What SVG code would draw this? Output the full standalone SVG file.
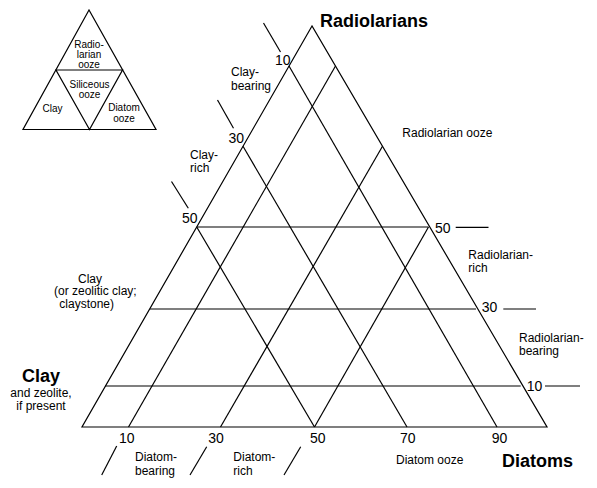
<svg xmlns="http://www.w3.org/2000/svg" width="597" height="488" viewBox="0 0 597 488">
<style>
.ln{stroke:#000;stroke-width:1.2;fill:none;stroke-linecap:butt}
.t{font-family:"Liberation Sans",Arial,sans-serif;font-size:12px;fill:#000}
.s{font-family:"Liberation Sans",Arial,sans-serif;font-size:10px;fill:#000}
.n{font-family:"Liberation Sans",Arial,sans-serif;font-size:14px;fill:#000}
.b{font-family:"Liberation Sans",Arial,sans-serif;font-size:18px;font-weight:bold;fill:#000}
</style>
<rect width="597" height="488" fill="#fff"/>
<g id="inset">
<polygon class="ln" points="89,10 23,129.5 156,129.5"/>
<polygon class="ln" points="56,70 122.5,70 89.5,129.5"/>
<text class="s" x="89" y="47.5" text-anchor="middle">Radio-</text>
<text class="s" x="89" y="57.5" text-anchor="middle">larian</text>
<text class="s" x="89" y="67.5" text-anchor="middle">ooze</text>
<text class="s" x="89.5" y="88" text-anchor="middle">Siliceous</text>
<text class="s" x="89.5" y="98" text-anchor="middle">ooze</text>
<text class="s" x="52.5" y="111.5" text-anchor="middle">Clay</text>
<text class="s" x="124" y="111" text-anchor="middle">Diatom</text>
<text class="s" x="124" y="121.5" text-anchor="middle">ooze</text>
</g>
<g id="triangle">
<polygon class="ln" points="312,26 82,427 547,427"/>
</g>
<g id="connectors">
<line class="ln" x1="196.7" y1="227" x2="428.5" y2="227"/>
<line class="ln" x1="150" y1="309" x2="476" y2="309"/>
<line class="ln" x1="105" y1="386" x2="520.7" y2="386"/>
<line class="ln" x1="289" y1="66" x2="497" y2="427"/>
<line class="ln" x1="243" y1="146.3" x2="407" y2="427"/>
<line class="ln" x1="196.7" y1="227" x2="314.5" y2="427"/>
<line class="ln" x1="335.5" y1="66" x2="128.5" y2="427"/>
<line class="ln" x1="382.5" y1="146.3" x2="220.5" y2="427"/>
<line class="ln" x1="428.5" y1="227" x2="314.5" y2="427"/>
<line class="ln" x1="263.5" y1="23" x2="280.5" y2="52"/>
<line class="ln" x1="217.5" y1="100" x2="233.5" y2="128.3"/>
<line class="ln" x1="171.5" y1="181.5" x2="188.3" y2="208.3"/>
<line class="ln" x1="455.7" y1="227.3" x2="488.5" y2="227.3"/>
<line class="ln" x1="503.3" y1="309" x2="536" y2="309"/>
<line class="ln" x1="545" y1="386" x2="580" y2="386"/>
<line class="ln" x1="101.7" y1="475" x2="116.7" y2="446"/>
<line class="ln" x1="190" y1="475" x2="206.7" y2="446.7"/>
<line class="ln" x1="284" y1="475" x2="300.7" y2="446.7"/>
</g>
<g id="labels">
<text class="b" x="320" y="27">Radiolarians</text>
<text class="b" x="502" y="467">Diatoms</text>
<text class="b" x="41" y="382" text-anchor="middle">Clay</text>
<text class="t" x="41" y="396.5" text-anchor="middle">and zeolite,</text>
<text class="t" x="41" y="410" text-anchor="middle">if present</text>
<text class="n" x="275" y="65">10</text>
<text class="n" x="228.5" y="143.3">30</text>
<text class="n" x="182" y="223.3">50</text>
<text class="n" x="435" y="233">50</text>
<text class="n" x="481.7" y="312">30</text>
<text class="n" x="526.7" y="391">10</text>
<text class="n" x="119" y="442.7">10</text>
<text class="n" x="208.3" y="442.7">30</text>
<text class="n" x="310" y="442.7">50</text>
<text class="n" x="400" y="442.5">70</text>
<text class="n" x="491.7" y="442.5">90</text>
<text class="t" x="231" y="76">Clay-</text>
<text class="t" x="231" y="90">bearing</text>
<text class="t" x="190" y="159">Clay-</text>
<text class="t" x="190" y="172.3">rich</text>
<text class="t" x="78" y="282.5">Clay</text>
<text class="t" x="54" y="295">(or zeolitic clay;</text>
<text class="t" x="59.3" y="307.5">claystone)</text>
<text class="t" x="402.3" y="136.5">Radiolarian ooze</text>
<text class="t" x="468.3" y="259">Radiolarian-</text>
<text class="t" x="468.3" y="272">rich</text>
<text class="t" x="519" y="342">Radiolarian-</text>
<text class="t" x="519" y="355">bearing</text>
<text class="t" x="135" y="461">Diatom-</text>
<text class="t" x="135" y="474.5">bearing</text>
<text class="t" x="233.3" y="461">Diatom-</text>
<text class="t" x="233.3" y="474.5">rich</text>
<text class="t" x="396" y="464">Diatom ooze</text>
</g>
</svg>
